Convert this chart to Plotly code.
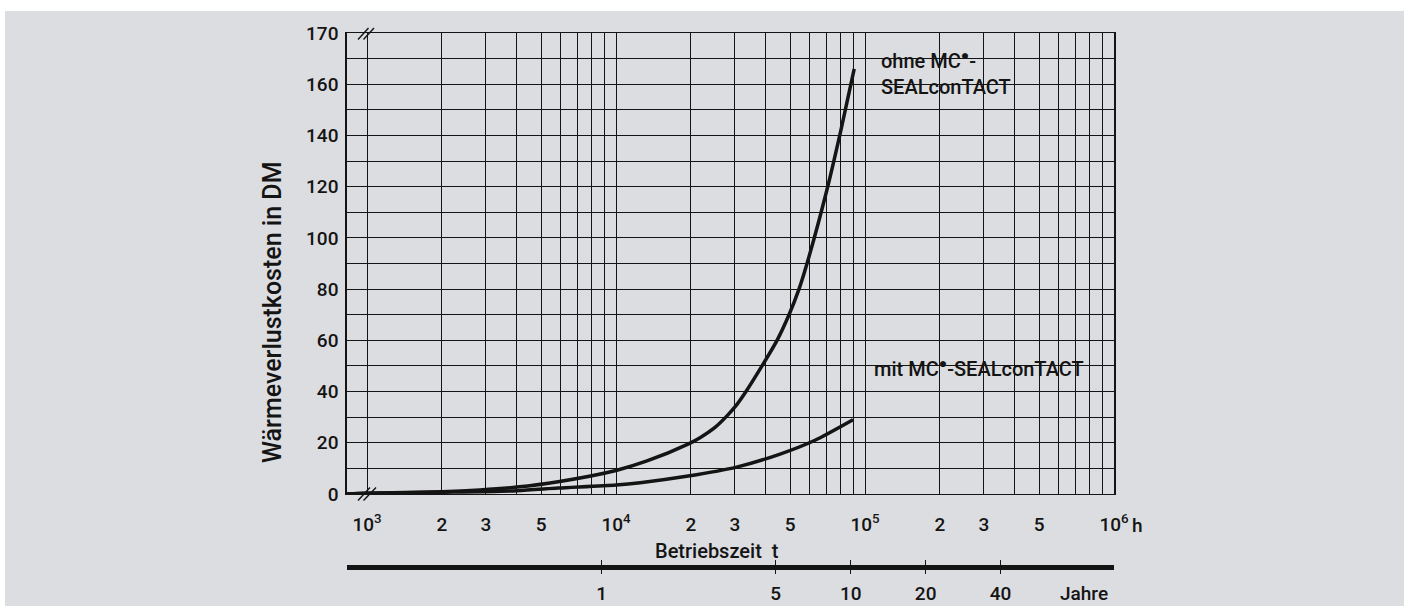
import numpy as np
import plotly.graph_objects as go

# ---------------- data ----------------
hours_ohne = [830, 1000, 2000, 2840, 4000, 5850, 10000, 13320, 19470, 21750, 24980,
              27910, 30620, 33270, 38580, 44330, 49530, 54310, 58500, 70000, 80000, 90500]
kosten_ohne = [0, 0.3, 0.9, 1.6, 2.7, 4.8, 9.2, 12.9, 19.5, 22, 26,
               30.5, 35, 40, 50, 60, 70, 80, 90, 118, 142, 166]

hours_mit = [830, 1000, 2000, 4000, 5850, 10000, 12500, 19500, 30500,
             45600, 63000, 89500]
kosten_mit = [0, 0.3, 0.7, 1.3, 2.3, 3.5, 4.4, 7.0, 10.5,
              15.6, 21, 29]

x_decades = [3, 4, 5]
x_labeled_mult = [2, 3, 5]
y_labels = ["0", "20", "40", "60", "80", "100", "120", "140", "160", "170"]
year_ticks = [1, 5, 10, 20, 40]
HOURS_PER_YEAR = 8760

DOT = "<sup>●</sup>"
label_ohne = "ohne MC" + DOT + "-<br>SEALconTACT"
label_mit = "mit MC" + DOT + "-SEALconTACT"

# ---------------- layout geometry ----------------
W, H = 1407, 606
PL, PR, PT, PB = 347, 1114, 33, 574
MAIN_BOTTOM = 494
BG = "#dcdde0"
INK = "#141414"
FONT = "Roboto, Liberation Sans, Arial, sans-serif"
FW = 500

X_LO, X_HI = 3 - 20 / 249, 6.0
LOG_Y = np.log10(HOURS_PER_YEAR)


def xp(px):
    return (px - PL) / (PR - PL)


def yp(py):
    return (PB - py) / (PB - PT)


def xpaper_h(h):
    return (np.log10(h) - X_LO) / (X_HI - X_LO)


def fnt(size):
    return dict(size=size, family=FONT, color=INK, weight=FW)


# x ticks: labelled majors + unlabelled minor grid lines
x_tickvals, x_ticktext, x_minor = [], [], []
for d in x_decades:
    for m in range(1, 10):
        v = m * 10 ** d
        if m == 1:
            x_tickvals.append(v)
            x_ticktext.append(f"10<sup>{d}</sup>")
        elif m in x_labeled_mult:
            x_tickvals.append(v)
            x_ticktext.append(str(m))
        else:
            x_minor.append(v)
x_tickvals.append(10 ** 6)
x_ticktext.append("10<sup>6</sup>")

y_tickvals = list(range(0, 161, 20)) + [180]
y_ticktext = y_labels
y_minor = list(range(10, 180, 20))

yr_lo, yr_hi = X_LO - LOG_Y, X_HI - LOG_Y
yr_ticktext = [str(v) for v in year_ticks]
yr_minor = [10 ** (yr_lo + 0.0008), 10 ** (yr_hi - 0.0008)]

fig = go.Figure()
for hx, ky in ((hours_ohne, kosten_ohne), (hours_mit, kosten_mit)):
    fig.add_trace(go.Scatter(x=hx, y=ky, mode="lines",
                             line=dict(color=INK, width=3.5, shape="spline", smoothing=0.7),
                             xaxis="x", yaxis="y", hoverinfo="skip"))
# invisible trace for the year axis
fig.add_trace(go.Scatter(x=[1], y=[0], mode="markers", marker=dict(opacity=0),
                         xaxis="x2", yaxis="y2", hoverinfo="skip"))

y_dom_lo = (PB - MAIN_BOTTOM) / (PB - PT)
grid = dict(showgrid=True, gridcolor=INK, gridwidth=1)

fig.update_layout(
    template="none",
    width=W, height=H, autosize=False,
    margin=dict(l=PL, r=W - PR, t=PT, b=H - PB, pad=0),
    paper_bgcolor=BG, plot_bgcolor=BG, showlegend=False,
    font=fnt(19),
    xaxis=dict(type="log", range=[X_LO, X_HI], domain=[0, 1], anchor="y", automargin=False,
               tickmode="array", tickvals=x_tickvals, ticktext=x_ticktext, ticks="",
               minor=dict(tickmode="array", tickvals=x_minor, ticks="", **grid),
               showline=True, linecolor=INK, linewidth=1.2, mirror=True,
               zeroline=False, ticklabelstandoff=13, tickfont=fnt(19), **grid),
    yaxis=dict(range=[0, 180], domain=[y_dom_lo, 1], anchor="x", automargin=False,
               tickmode="array", tickvals=y_tickvals, ticktext=y_ticktext, ticks="",
               minor=dict(tickmode="array", tickvals=y_minor, ticks="", **grid),
               showline=True, linecolor=INK, linewidth=1.5, mirror=True,
               zeroline=False, ticklabelstandoff=3, tickfont=fnt(19), **grid),
    xaxis2=dict(type="log", range=[yr_lo, yr_hi], domain=[0, 1], anchor="y2", automargin=False,
                tickmode="array", tickvals=year_ticks, ticktext=yr_ticktext, ticks="",
                showgrid=True, gridcolor=INK, gridwidth=1.3,
                minor=dict(tickmode="array", tickvals=yr_minor, ticks="",
                           showgrid=True, gridcolor=INK, gridwidth=1.3),
                showline=False, zeroline=False, ticklabelstandoff=6, tickfont=fnt(19)),
    yaxis2=dict(range=[-1, 1], domain=[0, 14 / (PB - PT)], anchor="x2", automargin=False,
                showgrid=False, showticklabels=False, ticks="",
                zeroline=True, zerolinecolor=INK, zerolinewidth=4.5, showline=False),
)

shapes = []
# white frame strips outside the grey page
for x0, x1, y0, y1 in ((0, W, 0, 11), (0, 5, 0, H), (1404, W, 0, H)):
    shapes.append(dict(type="rect", xref="paper", yref="paper",
                       x0=xp(x0), x1=xp(x1), y0=yp(y1), y1=yp(y0),
                       fillcolor="white", line=dict(width=0), layer="below"))
# gap in horizontal grid for the axis break
shapes.append(dict(type="rect", xref="paper", yref="y", x0=xp(363), x1=xp(370),
                   y0=0.6, y1=179.4, fillcolor=BG, line=dict(width=0), layer="between"))
# label boxes clearing the grid
shapes.append(dict(type="rect", xref="paper", yref="y",
                   x0=xpaper_h(1e5) + 0.002, x1=xpaper_h(5e5) - 0.002,
                   y0=150.5, y1=179.5, fillcolor=BG, line=dict(width=0), layer="between"))
shapes.append(dict(type="rect", xref="paper", yref="y",
                   x0=xpaper_h(1e5) + 0.002, x1=xpaper_h(9e5) - 0.002,
                   y0=40.5, y1=59.5, fillcolor=BG, line=dict(width=0), layer="between"))
# break marks //
for (ax0, ay0, ax1, ay1) in ((358, 39.5, 368.5, 28), (363.5, 39.5, 374, 28),
                             (358, 500.5, 370, 487.5), (363.5, 500.5, 376, 487.5)):
    shapes.append(dict(type="line", xref="paper", yref="paper",
                       x0=xp(ax0), y0=yp(ay0), x1=xp(ax1), y1=yp(ay1),
                       line=dict(color=INK, width=1.4), layer="above"))
fig.update_layout(shapes=shapes)


def note(text, px, py, size, anchor="center", angle=0):
    return dict(text=text, xref="paper", yref="paper", x=xp(px), y=yp(py),
                textangle=angle, showarrow=False, align="left",
                xanchor=anchor, yanchor="middle", font=fnt(size))


ann = [
    note("Wärmeverlustkosten in DM", 272, 312, 25, angle=-90),
    note("Betriebszeit  t", 717, 551, 20),
    note("h", 1137, 525, 19),
    note("Jahre", 1084, 593, 19),
    note(label_ohne, 879, 73, 20, anchor="left"),
    note(label_mit, 872, 368, 20, anchor="left"),
]
fig.update_layout(annotations=ann)

fig.write_html("out.html")
